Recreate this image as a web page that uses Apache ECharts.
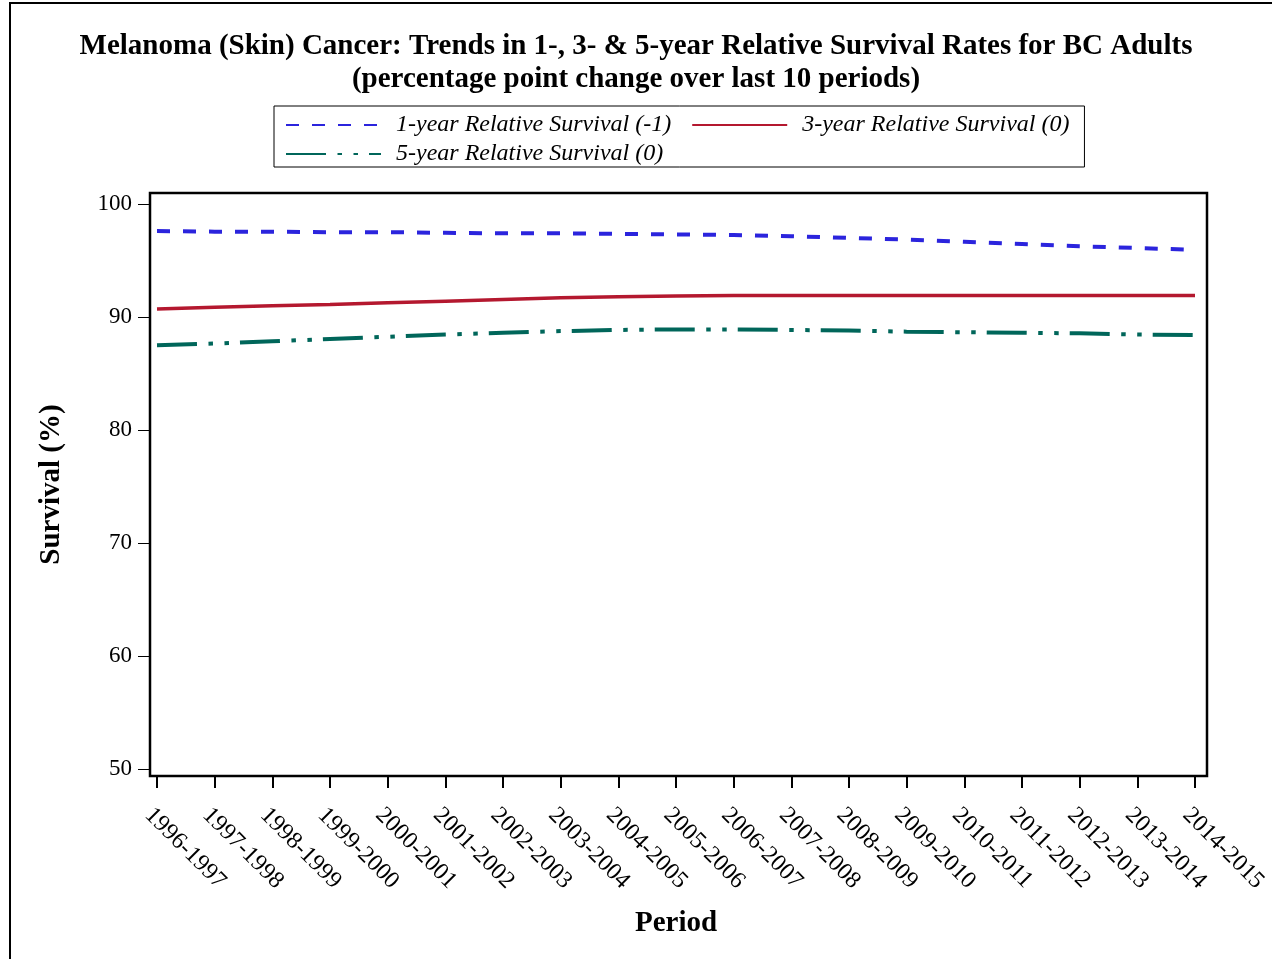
<!DOCTYPE html>
<html>
<head>
<meta charset="utf-8">
<script src="https://cdn.jsdelivr.net/npm/echarts@6/dist/echarts.min.js"></script>
<style>
html,body{margin:0;padding:0;background:#fff;}
#chart{width:1272px;height:959px;}
</style>
</head>
<body>
<div id="chart"></div>
<script>
const periods = ['1996-1997','1997-1998','1998-1999','1999-2000','2000-2001','2001-2002','2002-2003','2003-2004','2004-2005','2005-2006','2006-2007','2007-2008','2008-2009','2009-2010','2010-2011','2011-2012','2012-2013','2013-2014','2014-2015'];
const oneYear   = [97.6,97.55,97.55,97.5,97.5,97.45,97.4,97.4,97.35,97.3,97.25,97.15,97.0,96.85,96.65,96.45,96.25,96.1,95.95];
const threeYear = [90.7,90.85,91.0,91.1,91.25,91.4,91.55,91.7,91.8,91.85,91.9,91.9,91.9,91.9,91.9,91.9,91.9,91.9,91.9];
const fiveYear  = [87.5,87.65,87.85,88.05,88.25,88.45,88.6,88.75,88.85,88.9,88.9,88.85,88.8,88.7,88.65,88.6,88.55,88.45,88.4];
const yTicks = [50,60,70,80,90,100];
const seriesNames = ['1-year Relative Survival (-1)','3-year Relative Survival (0)','5-year Relative Survival (0)'];

const serif = '"Liberation Serif", "Times New Roman", serif';
const chart = echarts.init(document.getElementById('chart'), null, {renderer:'canvas'});
chart.setOption({
  animation:false,
  backgroundColor:'#fff',
  title:{
    text:'Melanoma (Skin) Cancer: Trends in 1-, 3- & 5-year Relative Survival Rates for BC Adults\n(percentage point change over last 10 periods)',
    left:'center', top:25,
    textStyle:{fontFamily:serif, fontWeight:'bold', fontSize:29, lineHeight:33, color:'#000'}
  },
  legend:{
    left:274, top:106, width:812,
    padding:[7,0,1,11],
    itemGap:5,
    itemWidth:95, itemHeight:14,
    borderColor:'#000', borderWidth:1,
    itemStyle:{color:'rgba(0,0,0,0)', borderWidth:0, opacity:0},
    textStyle:{fontFamily:serif, fontStyle:'italic', fontSize:24, lineHeight:23, color:'#000', padding:[0,15,0,10]},
    data:seriesNames
  },
  grid:{left:157, right:77, top:193, bottom:183, containLabel:false},
  xAxis:{
    type:'category', data:periods, boundaryGap:false,
    axisLine:{show:false},
    axisTick:{show:true, length:12, lineStyle:{color:'#000', width:2}},
    axisLabel:{rotate:-45, align:'left', verticalAlign:'top', fontFamily:serif, fontSize:24, color:'#000', margin:27},
    name:'Period', nameLocation:'middle', nameGap:133,
    nameTextStyle:{fontFamily:serif, fontWeight:'bold', fontSize:29, color:'#000'}
  },
  yAxis:{
    type:'value', min:49.38, max:100.97, offset:7,
    splitLine:{show:false},
    axisLine:{show:false},
    axisTick:{show:true, length:12, customValues:yTicks, lineStyle:{color:'#000', width:1}},
    axisLabel:{customValues:yTicks, fontFamily:serif, fontSize:23, color:'#000', margin:18},
    name:'Survival (%)', nameLocation:'middle', nameGap:84,
    nameTextStyle:{fontFamily:serif, fontWeight:'bold', fontSize:29, color:'#000'}
  },
  graphic:[
    {type:'rect', shape:{x:10, y:3, width:1400, height:1100}, style:{fill:'none', stroke:'#000', lineWidth:2}, silent:true, z:-10},
    {type:'rect', shape:{x:150, y:193, width:1057, height:583}, style:{fill:'none', stroke:'#000', lineWidth:2.5}, silent:true, z:100}
  ],
  series:[
    {name:seriesNames[0], type:'line', data:oneYear, symbol:'none', smooth:false,
     lineStyle:{color:'#2b24dd', width:4, type:[13,13]}, itemStyle:{color:'#2b24dd'}},
    {name:seriesNames[1], type:'line', data:threeYear, symbol:'none',
     lineStyle:{color:'#b4182f', width:3.5, type:'solid'}, itemStyle:{color:'#b4182f'}},
    {name:seriesNames[2], type:'line', data:fiveYear, symbol:'none',
     lineStyle:{color:'#00665a', width:4, type:[40,11.5,4.5,11.5,4.5,11]}, itemStyle:{color:'#00665a'}}
  ]
});
</script>
</body>
</html>
